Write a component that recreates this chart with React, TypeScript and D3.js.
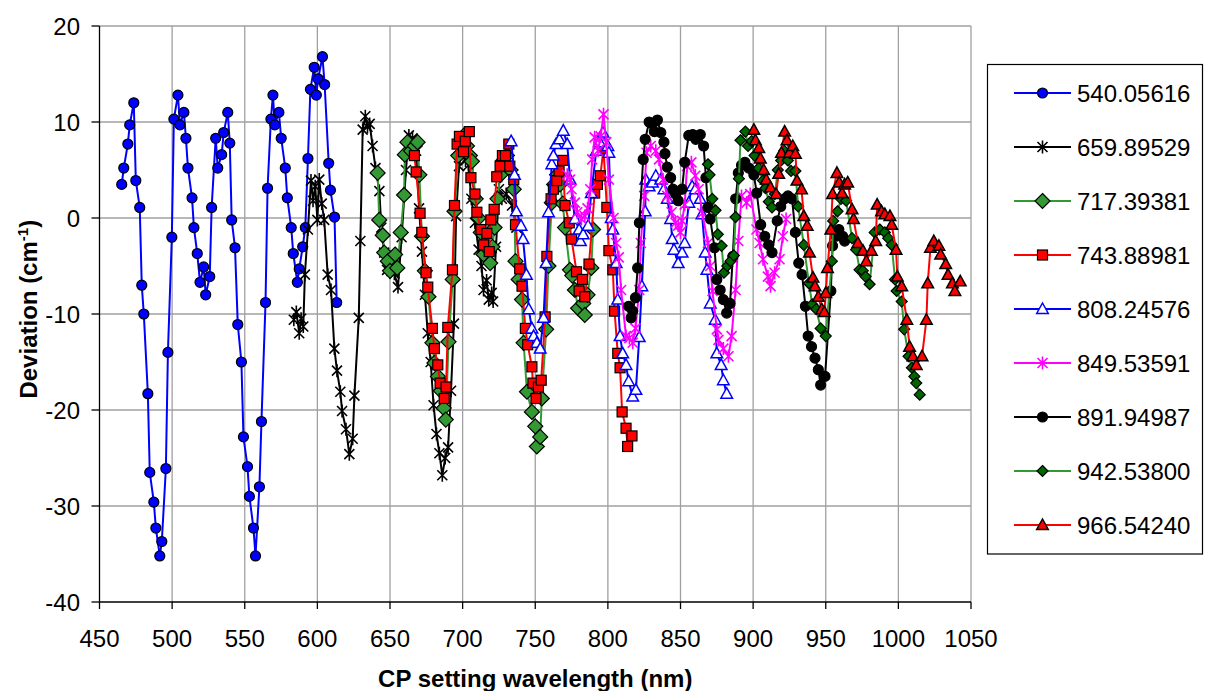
import React, { useEffect, useRef } from "react";
import * as d3 from "d3";

// series names as in the legend
const seriesNames = [
  "540.05616", "659.89529", "717.39381", "743.88981", "808.24576",
  "849.53591", "891.94987", "942.53800", "966.54240",
];

const xTicks = [450, 500, 550, 600, 650, 700, 750, 800, 850, 900, 950, 1000, 1050];
const yTicks = [20, 10, 0, -10, -20, -30, -40];

// [wavelength nm, deviation cm-1]
const s540 = [
  [465.3, 3.5], [466.7, 5.2], [469.5, 7.7], [470.8, 9.7], [473.6, 12.0], [475.0, 3.9], [477.7, 1.1],
  [479.1, -7.0], [480.5, -10.0], [483.3, -18.3], [484.6, -26.5], [487.4, -29.6], [488.8, -32.3],
  [491.5, -35.2], [492.9, -33.7], [495.7, -26.1], [497.1, -14.0], [499.8, -2.0], [501.2, 10.3],
  [504.0, 12.8], [505.4, 9.7], [508.1, 11.0], [509.5, 8.3], [510.9, 5.2], [513.7, 2.1], [515.0, -1.0],
  [517.3, -3.7], [519.2, -6.7], [521.7, -5.1], [523.1, -8.0], [525.9, -6.1], [527.2, 1.1], [530.0, 8.3],
  [531.4, 5.2], [534.1, 6.6], [535.5, 8.9], [538.3, 11.0], [539.7, 7.8], [541.0, -0.2], [543.3, -3.1],
  [545.2, -11.1], [547.7, -15.0], [549.1, -22.8], [551.9, -25.9], [553.2, -29.0], [556.0, -32.3],
  [557.4, -35.2], [560.1, -28.0], [561.5, -21.2], [564.3, -8.8], [565.7, 3.1], [568.0, 10.3],
  [569.4, 12.8], [570.7, 9.7], [573.5, 11.0], [575.1, 8.3], [577.9, 5.2], [579.3, 2.1], [582.0, -1.0],
  [583.4, -3.7], [586.2, -6.7], [587.5, -5.3], [589.9, -3.0], [591.7, -1.0], [593.5, 6.2], [595.2, 13.4],
  [597.8, 15.7], [599.3, 12.8], [600.5, 14.5], [603.5, 16.8], [605.0, 13.9], [607.8, 5.7], [609.0, 2.9],
  [611.8, 0.1], [613.3, -8.8],
];

const s659 = [
  [583.8, -10.6], [585.5, -9.8], [587.5, -12.0], [588.8, -10.5], [590.3, -11.3], [591.4, -5.9],
  [593.5, -1.2], [595.6, 3.9], [597.0, 1.8], [598.5, 3.3], [600.0, -0.2], [601.3, 4.0], [603.0, 1.5],
  [604.7, -0.2], [607.1, -5.9], [609.4, -7.5], [611.7, -13.6], [613.5, -15.9], [615.8, -18.1],
  [617.0, -20.1], [619.7, -22.0], [622.0, -24.6], [624.3, -23.0], [625.5, -18.5], [628.5, -10.4],
  [629.6, -2.4], [631.2, 9.2], [633.0, 10.6], [634.5, 9.5], [636.0, 9.8], [638.0, 7.5], [640.0, 5.2],
  [642.7, 2.8], [644.0, -1.0], [646.0, -3.6], [648.0, -5.4], [650.5, -4.8], [653.0, -5.8], [655.5, -7.2],
  [658.0, -2.0], [661.0, 5.0], [663.0, 8.6], [665.5, 8.3], [668.0, 7.0], [670.0, 1.0], [672.0, -3.5],
  [674.0, -8.0], [676.0, -12.0], [678.0, -15.0], [680.0, -19.5], [682.0, -22.5], [684.0, -24.5],
  [686.0, -26.8], [688.0, -25.0], [690.0, -23.9], [692.0, -18.0], [694.0, -11.0], [695.5, 0.2],
  [697.5, 5.4], [700.0, 7.2], [702.0, 6.0], [704.0, 5.5], [706.0, 2.0], [708.5, -0.5], [711.0, -3.3],
  [713.0, -5.0], [714.4, -7.5], [716.5, -6.5], [718.0, -8.5], [720.0, -7.8], [721.0, -8.7], [723.0, -3.0],
  [725.0, 3.0], [727.0, 2.0], [730.0, 2.5], [734.0, 1.3], [737.0, -1.0],
];

const s717 = [
  [641.5, 4.7], [642.6, -0.2], [645.0, -1.8], [646.0, -3.6], [648.5, -4.5], [650.0, -5.5], [653.5, -3.8],
  [655.0, -5.2], [657.4, -1.5], [659.7, 2.4], [660.2, 6.6], [662.0, 7.9], [664.5, 7.0], [667.0, 7.5],
  [669.0, 7.9], [670.2, 4.5], [672.0, -1.9], [674.0, -5.5], [676.5, -8.2], [679.2, -13.0], [680.6, -15.1],
  [683.0, -16.5], [685.0, -18.0], [687.0, -19.8], [688.4, -21.0], [690.3, -12.9], [693.2, -6.4],
  [694.4, 0.7], [697.0, 6.5], [699.0, 8.0], [701.0, 8.6], [703.0, 7.5], [705.0, 6.5], [706.4, 5.9],
  [709.0, 2.0], [711.0, 0.0], [712.5, -1.5], [714.4, -3.8], [716.0, -3.0], [719.0, -4.7], [720.5, -3.0],
  [722.0, -1.0], [724.0, 2.0], [726.0, 4.5], [728.0, 6.0], [730.5, 6.5], [733.0, 5.0], [735.2, 3.0],
  [736.4, -4.5], [738.6, -6.4], [740.9, -8.5], [742.0, -13.0], [744.3, -18.1], [747.7, -20.2],
  [750.0, -21.7], [751.1, -23.8], [753.4, -22.8], [754.5, -18.8], [757.5, -11.6], [759.1, -5.0],
  [761.4, 1.6], [763.0, 3.5], [765.0, 4.5], [767.0, 3.5], [769.0, 1.5], [770.5, -1.0], [773.9, -5.4],
  [775.5, -6.0], [777.3, -7.5], [779.5, -9.4], [783.0, -8.9], [784.1, -10.1], [786.0, -8.0],
  [788.6, -5.2], [789.8, -1.2],
];

const s743 = [
  [666.8, 6.5], [668.0, 4.8], [670.7, 0.5], [671.9, -1.5], [674.8, -5.7], [676.0, -7.2], [679.2, -11.5],
  [680.6, -13.6], [682.9, -15.3], [684.5, -17.2], [687.3, -18.8], [688.6, -17.6], [689.8, -11.4],
  [693.0, -5.4], [694.4, 1.3], [696.2, 7.7], [697.8, 8.5], [700.6, 6.9], [701.8, 8.0], [704.6, 9.0],
  [705.7, 4.2], [708.5, 2.5], [709.8, 0.6], [712.6, -1.2], [714.4, -2.8], [716.7, -1.6], [718.3, -3.5],
  [719.4, -0.2], [721.7, 0.9], [723.5, 4.3], [725.8, 5.4], [727.4, 6.5], [729.5, 6.5], [731.8, 7.7],
  [732.5, 5.4], [735.2, 4.0], [736.4, -0.7], [739.3, -5.3], [740.9, -7.1], [743.2, -11.5], [744.8, -13.2],
  [747.7, -15.5], [748.4, -17.2], [750.5, -18.8], [752.2, -17.6], [754.1, -16.9], [756.8, -10.3],
  [758.0, -4.0], [760.9, 2.0], [762.5, 3.0], [764.8, 3.9], [766.4, 4.9], [768.9, 6.0], [770.5, 1.3],
  [773.4, -0.5], [775.0, -2.2], [778.4, -5.6], [780.2, -7.6], [782.5, -6.4], [784.1, -8.2], [787.0, -4.8],
  [790.9, 2.6], [792.8, 3.5], [794.8, 4.4], [797.0, 7.2], [799.3, 1.1], [800.7, -3.4], [803.4, -5.4],
  [804.6, -9.7], [806.8, -14.1], [808.4, -15.6], [809.8, -20.2], [812.5, -21.9], [813.6, -23.8],
  [816.6, -22.7],
];

const s808 = [
  [733.4, 8.0], [735.7, 4.5], [737.0, 0.7], [740.2, -0.8], [741.6, -2.2], [743.9, -5.9], [745.5, -9.5],
  [747.7, -11.5], [748.9, -12.3], [751.1, -13.0], [753.4, -13.6], [755.7, -10.4], [757.5, -4.7],
  [759.1, 0.6], [761.4, 5.6], [762.5, 6.5], [764.3, 7.7], [766.6, 8.2], [769.3, 9.1], [772.0, 7.7],
  [774.0, 4.0], [777.3, -0.1], [780.2, -1.2], [781.1, -2.4], [783.0, -1.7], [786.4, -0.8], [788.6, 2.6],
  [792.0, 7.0], [794.3, 7.9], [796.6, 8.9], [800.0, 7.5], [800.7, 6.8], [802.3, 0.0], [803.4, -1.2],
  [805.7, -4.7], [806.8, -8.5], [808.4, -12.3], [810.2, -14.1], [812.5, -15.3], [814.3, -17.0],
  [817.1, -18.6], [819.3, -17.9], [821.6, -12.4], [823.4, -7.1], [825.7, 0.7], [826.1, 4.0], [828.4, 3.3],
  [830.7, 3.7], [833.0, 4.4], [836.4, 4.0], [838.6, 3.0], [840.9, 2.0], [843.2, -0.1], [844.3, -2.2],
  [845.5, -3.3], [848.4, -4.7], [851.1, -3.6], [852.9, -2.6], [855.7, 1.6], [858.0, 3.3], [860.2, 3.0],
  [863.6, 2.0], [864.8, 0.4], [867.0, -3.6], [868.2, -5.4], [870.5, -8.9], [873.9, -10.6], [875.0, -14.1],
  [878.0, -15.3], [879.5, -16.9], [881.8, -18.3],
];

const s849 = [
  [772.0, 4.5], [773.9, 4.0], [775.0, 3.0], [777.3, 1.6], [778.9, 0.6], [781.8, -0.1], [784.1, 0.2],
  [786.0, 1.0], [787.9, 3.0], [789.2, 6.1], [790.9, 8.4], [793.2, 7.0], [795.0, 8.5], [797.0, 10.8],
  [798.9, 7.9], [800.7, 4.0], [803.9, 0.0], [805.7, -2.6], [807.5, -4.1], [809.1, -7.5], [812.5, -12.3],
  [814.8, -12.5], [817.1, -13.0], [819.0, -11.5], [821.6, -7.5], [822.7, -2.6], [825.0, 2.3], [826.6, 6.8],
  [829.5, 7.5], [833.0, 7.0], [835.2, 6.1], [838.0, 4.0], [840.9, 2.3], [843.9, 0.6], [846.6, -0.5],
  [848.4, -0.8], [850.0, -1.5], [851.1, -0.3], [852.9, 1.4], [854.5, 5.4], [857.5, 5.8], [860.2, 4.4],
  [862.5, 3.0], [865.0, 0.5], [868.9, -2.6], [870.5, -5.0], [872.0, -7.6], [875.0, -11.6], [876.1, -12.7],
  [879.5, -13.6], [883.0, -14.4], [885.2, -12.3], [887.9, -7.5], [889.8, -2.4], [892.0, 2.3], [895.5, 1.6],
  [898.0, 2.5], [902.3, -1.2], [904.5, -2.6], [906.8, -4.3], [910.2, -6.1], [912.0, -7.1], [914.8, -5.7],
  [918.2, -4.3], [920.5, -1.9], [922.7, -0.1],
];

const s891 = [
  [814.3, -9.2], [816.0, -10.4], [817.1, -9.7], [819.0, -8.3], [820.5, -5.2], [821.7, -0.5], [824.3, 6.1],
  [825.7, 8.2], [828.4, 10.0], [830.7, 9.8], [832.0, 9.0], [834.1, 10.2], [836.4, 8.9], [838.6, 7.9],
  [839.3, 6.7], [840.9, 5.3], [843.2, 4.2], [844.8, 3.0], [846.6, 2.5], [848.4, 1.8], [851.1, 3.0],
  [852.9, 5.8], [855.7, 8.6], [858.4, 8.7], [860.5, 8.2], [863.6, 8.7], [865.9, 7.5], [867.5, 4.2],
  [868.9, 1.1], [870.5, -0.1], [873.4, -3.1], [875.0, -6.4], [877.3, -7.5], [879.5, -8.5], [881.8, -9.9],
  [884.1, -8.9], [886.0, -4.0], [888.0, 2.0], [889.8, 4.7], [892.0, 5.5], [894.3, 5.8], [897.0, 5.2],
  [900.5, 4.5], [902.5, 2.6], [905.2, -0.7], [908.0, -1.9], [910.7, -2.8], [913.0, -3.6], [916.6, -0.3],
  [919.0, 1.2], [921.6, 2.0], [924.0, 2.3], [926.8, 2.0], [929.1, -1.5], [931.4, -4.7], [933.7, -5.9],
  [936.0, -9.2], [937.9, -12.3], [940.2, -13.4], [942.6, -14.6], [944.9, -15.8], [946.5, -17.4],
  [949.5, -16.5], [953.5, -7.6], [954.7, -2.9], [957.0, -1.9], [959.0, -1.2], [961.6, -1.9], [963.0, -2.4],
];

const s942 = [
  [868.9, 5.6], [870.0, 4.5], [871.9, 2.0], [874.1, 0.8], [875.7, -1.7], [878.3, -2.9], [879.9, -5.7],
  [882.2, -5.0], [884.4, -4.5], [886.7, -3.9], [887.9, 0.1], [890.2, 4.1], [891.3, 8.1], [894.7, 9.0],
  [896.5, 7.5], [899.0, 8.0], [901.0, 6.5], [903.9, 5.2], [906.8, 3.9], [908.5, 3.1], [910.8, 1.7],
  [913.0, 1.1], [915.0, 2.5], [917.0, 5.0], [919.3, 6.0], [921.5, 7.0], [923.9, 6.0], [926.1, 4.9],
  [929.1, 4.9], [931.0, 1.2], [934.9, -2.8], [938.4, -6.8], [940.7, -9.0], [943.5, -9.5], [946.5, -11.5],
  [950.0, -12.3], [954.2, -4.5], [955.1, -0.3], [958.1, 0.7], [960.5, 2.0], [964.0, 1.8], [968.1, -2.1],
  [970.9, -3.3], [973.3, -5.4], [975.5, -5.5], [977.4, -6.1], [980.2, -6.9], [983.7, -1.5], [987.2, -1.2],
  [990.7, -1.5], [993.0, -2.1], [995.4, -2.8], [997.7, -6.4], [998.8, -7.6], [1002.3, -8.7],
  [1004.0, -11.6], [1007.0, -14.4], [1009.3, -15.6], [1011.0, -16.5], [1012.3, -17.2], [1014.7, -18.4],
];

const s966 = [
  [900.5, 9.2], [901.6, 8.1], [903.9, 7.3], [905.0, 6.2], [907.3, 5.0], [909.0, 4.0], [911.9, 3.2],
  [915.8, 2.5], [917.6, 4.6], [919.5, 6.8], [921.7, 9.0], [923.3, 8.1], [925.0, 6.8], [927.3, 7.5],
  [929.1, 6.7], [930.2, 3.9], [933.3, 3.0], [934.9, 0.2], [937.2, -0.8], [938.8, -3.6], [941.2, -6.2],
  [942.6, -7.1], [944.9, -8.2], [947.2, -9.5], [949.0, -9.8], [950.0, -7.8], [951.2, -5.2], [953.5, -1.2],
  [954.7, 2.5], [957.7, 4.7], [959.3, 3.7], [961.2, 2.6], [963.0, 3.5], [965.1, 3.7], [968.1, 0.9],
  [969.1, -0.1], [972.1, -2.6], [975.6, -3.4], [977.9, -4.5], [981.4, -3.4], [984.4, -2.4], [985.4, 1.4],
  [988.4, 0.7], [990.7, 0.4], [994.2, 0.2], [995.4, -0.7], [998.4, -3.3], [999.3, -6.1], [1002.3, -7.1],
  [1005.8, -10.6], [1007.7, -13.4], [1010.0, -14.4], [1012.3, -15.3], [1016.3, -14.4], [1019.3, -10.6],
  [1020.2, -6.8], [1022.1, -3.1], [1024.4, -2.4], [1027.9, -2.9], [1029.1, -3.8], [1032.6, -4.8],
  [1034.2, -5.9], [1037.2, -6.8], [1038.9, -7.6], [1042.6, -6.6],
];

const seriesData = [s540, s659, s717, s743, s808, s849, s891, s942, s966];

// look of each series (line colour, marker kind, marker fill, marker stroke)
const looks = [
  { line: "#0000ff", kind: "circle", fill: "#0000ff", stroke: "#000" },
  { line: "#000000", kind: "star", fill: "none", stroke: "#000" },
  { line: "#339933", kind: "diamond", fill: "#339933", stroke: "#000" },
  { line: "#ff0000", kind: "square", fill: "#ff0000", stroke: "#000" },
  { line: "#0000ff", kind: "triangle", fill: "#fff", stroke: "#0000ff" },
  { line: "#ff00ff", kind: "star", fill: "none", stroke: "#ff00ff" },
  { line: "#000000", kind: "circle", fill: "#000", stroke: "#000" },
  { line: "#339933", kind: "smalldiamond", fill: "#006600", stroke: "#000" },
  { line: "#ff0000", kind: "triangle", fill: "#ff0000", stroke: "#000" },
];

const W = 1205, H = 691;
const margin = { left: 99.5, top: 26, right: 234, bottom: 89 };
const FONT = "'Liberation Sans', Arial, sans-serif";

function marker(g, kind, fill, stroke) {
  if (kind === "circle") {
    g.append("circle").attr("r", 5).attr("fill", fill).attr("stroke", stroke).attr("stroke-width", 1.2);
  } else if (kind === "star") {
    g.append("path").attr("d", "M-5,-5L5,5M-5,5L5,-5M0,-6.5L0,6.5")
      .attr("fill", "none").attr("stroke", stroke).attr("stroke-width", 1.6);
  } else if (kind === "diamond") {
    g.append("path").attr("d", "M0,-7.5L7.5,0L0,7.5L-7.5,0Z")
      .attr("fill", fill).attr("stroke", stroke).attr("stroke-width", 1.2);
  } else if (kind === "smalldiamond") {
    g.append("path").attr("d", "M0,-5.5L5.5,0L0,5.5L-5.5,0Z")
      .attr("fill", fill).attr("stroke", stroke).attr("stroke-width", 1.2);
  } else if (kind === "square") {
    g.append("rect").attr("x", -5).attr("y", -5).attr("width", 10).attr("height", 10)
      .attr("fill", fill).attr("stroke", stroke).attr("stroke-width", 1.2);
  } else if (kind === "triangle") {
    g.append("path").attr("d", "M0,-6L5.8,4.5L-5.8,4.5Z")
      .attr("fill", fill).attr("stroke", stroke).attr("stroke-width", 1.5);
  }
}

export default function App() {
  const ref = useRef(null);

  useEffect(() => {
    const svg = d3.select(ref.current);
    svg.selectAll("*").remove();

    const w = W - margin.left - margin.right;
    const h = H - margin.top - margin.bottom;

    const x = d3.scaleLinear().domain([450, 1050]).range([margin.left, margin.left + w]);
    const y = d3.scaleLinear().domain([-40, 20]).range([margin.top + h, margin.top]);

    svg.append("rect").attr("width", W).attr("height", H).attr("fill", "#fff");

    // gridlines
    const grid = svg.append("g").attr("stroke", "#a0a0a0").attr("stroke-width", 1.3);
    xTicks.slice(1).forEach(t => {
      grid.append("line").attr("x1", x(t)).attr("x2", x(t)).attr("y1", y(20)).attr("y2", y(-40));
    });
    yTicks.slice(0, -1).forEach(t => {
      grid.append("line").attr("x1", x(450)).attr("x2", x(1050)).attr("y1", y(t)).attr("y2", y(t));
    });

    // axes
    const ax = svg.append("g").attr("stroke", "#000").attr("stroke-width", 1.3);
    ax.append("line").attr("x1", x(450)).attr("x2", x(450)).attr("y1", y(20)).attr("y2", y(-40));
    ax.append("line").attr("x1", x(450)).attr("x2", x(1050)).attr("y1", y(-40)).attr("y2", y(-40));
    yTicks.forEach(t => {
      ax.append("line").attr("x1", x(450) - 8).attr("x2", x(450)).attr("y1", y(t)).attr("y2", y(t));
    });
    xTicks.forEach(t => {
      ax.append("line").attr("x1", x(t)).attr("x2", x(t)).attr("y1", y(-40)).attr("y2", y(-40) + 7);
    });

    svg.append("g").selectAll("text").data(yTicks).join("text")
      .attr("x", 80).attr("y", d => y(d) + 8.5)
      .attr("text-anchor", "end")
      .style("font-family", FONT).style("font-size", "24px")
      .text(d => d);

    svg.append("g").selectAll("text").data(xTicks).join("text")
      .attr("x", d => x(d)).attr("y", 647)
      .attr("text-anchor", "middle")
      .style("font-family", FONT).style("font-size", "24px")
      .text(d => d);

    // series
    const line = d3.line().x(d => x(d[0])).y(d => y(d[1]));
    seriesData.forEach((data, i) => {
      const lk = looks[i];
      const g = svg.append("g");
      g.append("path").datum(data).attr("d", line)
        .attr("fill", "none").attr("stroke", lk.line).attr("stroke-width", 2);
      data.forEach(d => {
        const m = g.append("g").attr("transform", `translate(${x(d[0])},${y(d[1])})`);
        marker(m, lk.kind, lk.fill, lk.stroke);
      });
    });

    // axis titles
    svg.append("text")
      .attr("x", (x(450) + x(1050)) / 2).attr("y", 687)
      .attr("text-anchor", "middle")
      .style("font-family", FONT).style("font-size", "24px").style("font-weight", "bold")
      .text("CP setting wavelength (nm)");

    const yl = svg.append("text")
      .attr("transform", `translate(37,${y(-9.5)}) rotate(-90)`)
      .attr("text-anchor", "middle")
      .style("font-family", FONT).style("font-size", "24px").style("font-weight", "bold");
    yl.append("tspan").text("Deviation (cm");
    yl.append("tspan").attr("dy", -9).style("font-size", "15px").text("-1");
    yl.append("tspan").attr("dy", 9).text(")");

    // legend
    const lg = svg.append("g");
    lg.append("rect").attr("x", 987.5).attr("y", 64.5).attr("width", 215).attr("height", 489.5)
      .attr("fill", "#fff").attr("stroke", "#000").attr("stroke-width", 1.2);
    seriesNames.forEach((name, i) => {
      const ly = 93 + i * 54;
      const lk = looks[i];
      lg.append("line").attr("x1", 1014).attr("x2", 1071).attr("y1", ly).attr("y2", ly)
        .attr("stroke", lk.line).attr("stroke-width", 2);
      const m = lg.append("g").attr("transform", `translate(1042.5,${ly})`);
      marker(m, lk.kind, lk.fill, lk.stroke);
      lg.append("text").attr("x", 1077).attr("y", ly + 8.5)
        .style("font-family", FONT).style("font-size", "24px")
        .text(name);
    });
  }, []);

  return (
    <svg ref={ref} width={W} height={H}
      style={{ position: "absolute", left: 0, top: 0, display: "block" }} />
  );
}
